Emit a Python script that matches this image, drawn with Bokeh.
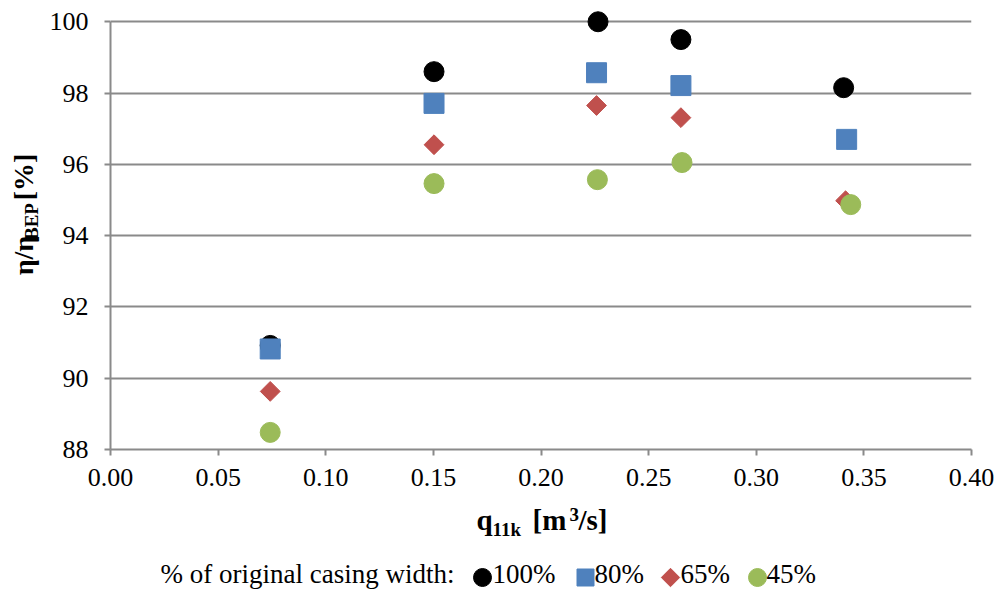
import math
from bokeh.plotting import figure
from bokeh.layouts import column, row
from bokeh.models import Range1d, FixedTicker, Label
from bokeh.embed import file_html
from bokeh.resources import INLINE

# ---- data ----
series_names = ["100%", "80%", "65%", "45%"]
x100 = [0.0742, 0.1503, 0.2265, 0.2650, 0.3406]
y100 = [90.92, 98.60, 100.00, 99.50, 98.15]
x80 = [0.0742, 0.1503, 0.2258, 0.2650, 0.3420]
y80 = [90.82, 97.71, 98.57, 98.21, 96.70]
x65 = [0.0742, 0.1503, 0.2258, 0.2650, 0.3415]
y65 = [89.63, 96.55, 97.65, 97.31, 94.98]
x45 = [0.0742, 0.1503, 0.2262, 0.2655, 0.3439]
y45 = [88.48, 95.46, 95.57, 96.05, 94.87]

x_ticks = [0.00, 0.05, 0.10, 0.15, 0.20, 0.25, 0.30, 0.35, 0.40]
x_tick_labels = ["0.00", "0.05", "0.10", "0.15", "0.20", "0.25", "0.30", "0.35", "0.40"]
y_ticks = [88, 90, 92, 94, 96, 98, 100]
y_tick_labels = ["88", "90", "92", "94", "96", "98", "100"]

legend_title = "% of original casing width:"

FONT = "Liberation Serif"
GRAY = "#8a8a8a"
COLORS = ["black", "#4F81BD", "#C0504D", "#9BBB59"]

W, H = 998, 590
TOP_H = 500          # height of the upper row (plot)
LEFT_W = 46          # width of the y-title strip
BOT_H = H - TOP_H    # height of the bottom strip (x-title + legend)

X0, X1 = 0.0, 0.40
Y0, Y1 = 88.0, 100.4

MID = 0.32  # approx. distance (in em) from text-box middle down to the baseline


def blank(width, height):
    f = figure(width=width, height=height, output_backend="svg",
               toolbar_location=None, x_axis_type=None, y_axis_type=None,
               x_range=Range1d(0, width), y_range=Range1d(0, height),
               min_border=0)
    f.outline_line_color = None
    f.xgrid.grid_line_color = None
    f.ygrid.grid_line_color = None
    f.background_fill_color = "white"
    f.border_fill_color = "white"
    return f


# ---------------- main plot ----------------
p = figure(width=W - LEFT_W, height=TOP_H, output_backend="svg",
           toolbar_location=None,
           x_range=Range1d(X0, X1), y_range=Range1d(Y0, Y1),
           min_border_left=109 - LEFT_W, min_border_right=27,
           min_border_top=7, min_border_bottom=TOP_H - 449)
p.outline_line_color = None
p.background_fill_color = "white"
p.border_fill_color = "white"

p.xaxis.ticker = FixedTicker(ticks=x_ticks)
p.xaxis.major_label_overrides = dict(zip(x_ticks, x_tick_labels))
p.yaxis.ticker = FixedTicker(ticks=y_ticks)
p.yaxis.major_label_overrides = dict(zip(y_ticks, y_tick_labels))
p.yaxis.bounds = (88, 100)
for ax in (p.xaxis[0], p.yaxis[0]):
    ax.axis_line_color = GRAY
    ax.axis_line_width = 2
    ax.major_tick_line_color = GRAY
    ax.major_tick_line_width = 2
    ax.major_tick_in = 0
    ax.major_tick_out = 6
    ax.minor_tick_line_color = None
    ax.major_label_text_font = FONT
    ax.major_label_text_font_size = "26px"
    ax.major_label_text_color = "black"
p.yaxis.major_label_standoff = 16
p.xaxis.major_label_standoff = 13

p.xgrid.grid_line_color = None
p.ygrid.grid_line_color = GRAY
p.ygrid.grid_line_width = 2
p.ygrid.ticker = FixedTicker(ticks=y_ticks)
p.ygrid.bounds = (X0, X1)

series_x = [x100, x80, x65, x45]
series_y = [y100, y80, y65, y45]
marker_style = [
    dict(marker="circle", size=20),
    dict(marker="square", size=20),
    dict(marker="square", size=14, angle=math.pi / 4),
    dict(marker="circle", size=20),
]
for xs, ys, c, st in zip(series_x, series_y, COLORS, marker_style):
    p.scatter(xs, ys, fill_color=c, line_color=c, **st)


def lab(fig, text, px, base, size, bold=True, rotated=False):
    """Place text so that its baseline lies at `base` (screen px of the strip)."""
    off = MID * size
    if rotated:
        x, y, ang = base - off, fig.height - px, math.pi / 2
    else:
        x, y, ang = px, fig.height - (base - off), 0.0
    fig.add_layout(Label(x=x, y=y, text=text, angle=ang,
                         text_font=FONT,
                         text_font_style="bold" if bold else "normal",
                         text_font_size=f"{size}px", text_color="black",
                         text_align="left", text_baseline="middle"))


# ---------------- y title strip: η/ηBEP [%] ----------------
left = blank(LEFT_W, TOP_H)
lab(left, "η/η", 303, 32, 28, rotated=True)
lab(left, "BEP", 263, 37, 19, rotated=True)
lab(left, "[%]", 218, 32, 28, rotated=True)

# ---------------- bottom strip: x title + legend ----------------
bot = blank(W, BOT_H)


def blab(text, px, base, size, bold=True):
    lab(bot, text, px, base - TOP_H, size, bold)


# q11k [m3/s]
blab("q", 476, 529, 29)
blab("11k", 492, 535, 19)
blab("[m", 532, 529, 29)
blab("3", 569, 520, 19)
blab("/s]", 578, 529, 29)

# legend (keys + texts laid out in a row)
legend_key_px = [482, 585, 670, 757]
legend_text_px = [492, 594, 680, 766]
legend_row_px = 577
legend_key_style = [
    dict(marker="circle", size=18),
    dict(marker="square", size=17),
    dict(marker="square", size=13, angle=math.pi / 4),
    dict(marker="circle", size=18),
]
blab(legend_title, 160, legend_row_px + 5, 27, bold=False)
for kx, tx, name, c, st in zip(legend_key_px, legend_text_px, series_names,
                               COLORS, legend_key_style):
    bot.scatter([kx], [BOT_H - (legend_row_px - TOP_H)], fill_color=c,
                line_color=c, **st)
    blab(name, tx, legend_row_px + 5, 27, bold=False)

layout = column(row(left, p, spacing=0), bot, spacing=0)
open("out.html", "w").write(file_html(layout, INLINE))
